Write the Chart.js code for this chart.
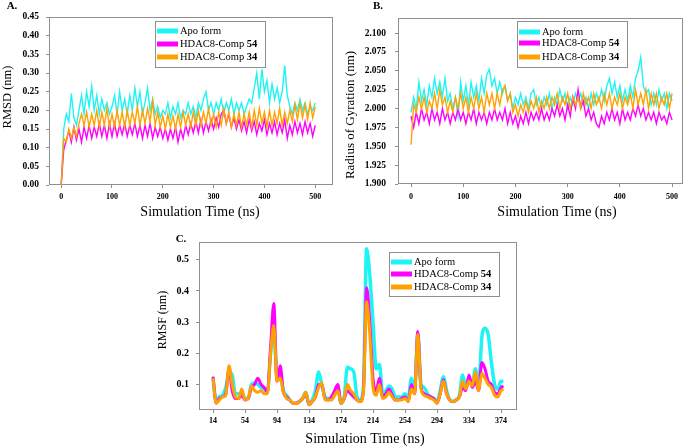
<!DOCTYPE html>
<html>
<head>
<meta charset="utf-8">
<script src="https://cdn.jsdelivr.net/npm/chart.js@4.4.0/dist/chart.umd.min.js"></script>
<style>
  html, body { margin: 0; padding: 0; background: #fff; }
  #wrap { position: relative; width: 685px; height: 447px; }
  #wrap canvas { position: absolute; left: 0; top: 0; }
</style>
</head>
<body>
<div id="wrap">
  <canvas id="rmsd" width="685" height="447"></canvas>
  <canvas id="rg" width="685" height="447"></canvas>
  <canvas id="rmsf" width="685" height="447"></canvas>
</div>
<script>
// series names and colours (Apo, Comp 54, Comp 34)
const seriesNames = ['Apo form', 'HDAC8-Comp 54', 'HDAC8-Comp 34'];
const legendParts = [['Apo form', ''], ['HDAC8-Comp ', '54'], ['HDAC8-Comp ', '34']];
const seriesColors = ['#1ef4f4', '#ff00ff', '#ffa200'];

// simulation time (ns) for panels A and B
const timeNs = [0,5,10,15,20,25,30,35,40,45,50,55,60,65,70,75,80,85,90,95,
  100,105,110,115,120,125,130,135,140,145,150,155,160,165,170,175,180,185,190,195,
  200,205,210,215,220,225,230,235,240,245,250,255,260,265,270,275,280,285,290,295,
  300,305,310,315,320,325,330,335,340,345,350,355,360,365,370,375,380,385,390,395,
  400,405,410,415,420,425,430,435,440,445,450,455,460,465,470,475,480,485,490,495,500];

// A. RMSD (nm)
const rmsdApo = [0.00,0.15,0.19,0.17,0.245,0.18,0.16,0.20,0.24,0.19,0.25,0.21,0.265,0.20,0.24,0.19,0.23,0.20,0.22,0.19,
  0.21,0.24,0.19,0.25,0.20,0.23,0.19,0.24,0.20,0.26,0.21,0.25,0.19,0.22,0.26,0.20,0.23,0.19,0.21,0.18,
  0.20,0.19,0.22,0.18,0.21,0.19,0.22,0.18,0.20,0.19,0.22,0.19,0.21,0.18,0.22,0.20,0.23,0.25,0.20,0.22,
  0.19,0.22,0.20,0.23,0.19,0.22,0.20,0.23,0.19,0.22,0.20,0.22,0.19,0.21,0.23,0.22,0.26,0.30,0.23,0.31,
  0.25,0.28,0.22,0.27,0.23,0.26,0.22,0.25,0.32,0.24,0.21,0.19,0.22,0.20,0.23,0.20,0.22,0.19,0.21,0.20,0.22];
const rmsd54 = [0.00,0.095,0.12,0.145,0.115,0.155,0.12,0.15,0.115,0.155,0.125,0.16,0.125,0.155,0.13,0.165,0.13,0.16,0.125,0.165,
  0.13,0.165,0.13,0.16,0.135,0.165,0.13,0.16,0.135,0.165,0.13,0.16,0.125,0.16,0.13,0.165,0.125,0.155,0.13,0.155,
  0.125,0.15,0.12,0.15,0.125,0.155,0.115,0.15,0.125,0.16,0.135,0.165,0.14,0.17,0.14,0.175,0.14,0.17,0.145,0.175,
  0.15,0.18,0.155,0.19,0.20,0.165,0.19,0.155,0.18,0.15,0.175,0.145,0.17,0.14,0.175,0.145,0.17,0.135,0.165,0.145,
  0.175,0.135,0.165,0.14,0.17,0.135,0.165,0.14,0.175,0.125,0.16,0.135,0.17,0.14,0.165,0.135,0.17,0.14,0.165,0.13,0.16];
const rmsd34 = [0.00,0.125,0.115,0.15,0.125,0.155,0.13,0.165,0.19,0.16,0.195,0.155,0.19,0.16,0.20,0.155,0.195,0.16,0.205,0.155,
  0.19,0.155,0.20,0.16,0.195,0.155,0.20,0.16,0.195,0.165,0.21,0.16,0.20,0.165,0.205,0.17,0.225,0.16,0.195,0.155,
  0.185,0.15,0.19,0.155,0.185,0.15,0.19,0.155,0.195,0.16,0.19,0.155,0.195,0.16,0.20,0.16,0.195,0.165,0.205,0.16,
  0.19,0.155,0.195,0.16,0.205,0.165,0.195,0.155,0.19,0.16,0.195,0.155,0.19,0.16,0.195,0.155,0.20,0.16,0.205,0.165,
  0.195,0.155,0.20,0.16,0.195,0.165,0.205,0.16,0.195,0.165,0.20,0.17,0.215,0.175,0.22,0.18,0.215,0.175,0.22,0.18,0.21];

// B. Radius of gyration (nm)
const rgApo = [1.995,2.015,2.0,2.035,2.01,2.025,2.005,2.03,2.015,2.04,2.02,2.035,2.015,2.04,2.01,2.02,2.0,2.015,1.99,2.035,
  2.01,2.03,2.005,2.035,2.015,2.03,2.01,2.04,2.02,2.045,2.052,2.03,2.04,2.02,2.035,2.02,2.03,2.01,2.02,2.0,
  2.015,2.005,2.02,2.005,2.015,2.0,2.02,2.025,2.005,2.015,2.0,2.015,2.005,2.02,2.0,2.015,2.005,2.025,2.01,2.02,
  2.0,2.015,2.005,2.02,2.01,2.02,2.005,2.015,2.0,2.02,2.005,2.02,2.01,2.025,2.01,2.03,2.04,2.02,2.035,2.015,
  2.03,2.01,2.025,2.01,2.03,2.015,2.04,2.05,2.068,2.03,2.02,2.025,2.005,2.02,2.005,2.025,2.01,2.02,2.0,2.02,2.01];
const rg54 = [1.99,1.975,1.995,1.98,2.0,1.985,1.995,1.98,2.0,1.985,1.995,1.98,2.0,1.985,1.995,1.98,1.995,1.985,2.0,1.985,
  1.995,1.98,1.995,1.985,2.0,1.98,1.995,1.985,1.995,1.98,1.995,1.985,2.0,1.985,1.995,1.985,2.0,1.98,1.995,1.98,
  1.99,1.975,1.99,1.98,1.995,1.98,1.995,1.985,1.995,1.985,2.0,1.985,1.995,1.985,2.0,1.99,2.005,1.99,2.0,1.985,
  2.005,1.99,2.015,2.0,2.025,2.0,2.01,1.99,2.0,1.985,1.995,1.98,1.975,1.99,1.98,1.995,1.985,2.0,1.985,1.995,
  1.98,2.0,1.985,1.995,1.985,2.0,1.99,2.005,1.99,2.0,1.985,1.995,1.985,1.995,1.98,1.995,1.985,1.99,1.98,1.995,1.985];
const rg34 = [1.952,2.005,1.995,2.015,2.0,2.015,1.995,2.01,2.0,2.02,2.0,2.025,2.005,2.015,1.995,2.01,1.995,2.015,2.0,2.02,
  2.0,2.015,1.995,2.015,2.0,2.02,2.0,2.015,1.995,2.02,2.005,2.02,2.0,2.02,2.005,2.025,2.03,2.01,2.02,1.995,
  2.005,1.99,2.005,1.995,2.01,1.995,2.01,2.0,2.015,1.995,2.01,2.0,2.015,2.0,2.015,2.005,2.02,2.0,2.015,2.005,
  2.02,2.0,2.015,2.005,2.015,2.0,2.02,2.005,2.015,2.0,2.02,2.005,2.015,2.0,2.02,2.005,2.02,2.0,2.015,2.005,
  2.02,2.0,2.015,2.005,2.02,2.0,2.025,2.005,2.02,2.005,2.025,2.0,2.02,2.005,2.02,2.0,2.015,2.005,2.02,2.0,2.02];

// C. RMSF (nm) per residue
const residues = [14,18,22,26,30,34,38,42,46,50,54,58,62,66,70,74,78,82,86,90,
  94,98,102,106,110,114,118,122,126,130,134,138,142,146,150,154,158,162,166,170,
  174,178,182,186,190,194,198,202,206,210,214,218,222,226,230,234,238,242,246,250,
  254,258,262,266,270,274,278,282,286,290,294,298,302,306,310,314,318,322,326,330,
  334,338,342,346,350,354,358,362,366,370,374,377];
const rmsfApo = [0.12,0.045,0.06,0.065,0.09,0.14,0.13,0.07,0.07,0.07,0.055,0.055,0.10,0.105,0.10,0.09,0.085,0.075,0.20,0.28,
  0.12,0.13,0.08,0.065,0.05,0.04,0.04,0.045,0.055,0.075,0.037,0.05,0.08,0.14,0.10,0.06,0.055,0.055,0.075,0.09,
  0.04,0.06,0.155,0.15,0.14,0.06,0.05,0.09,0.535,0.45,0.30,0.15,0.165,0.07,0.08,0.095,0.085,0.06,0.06,0.06,
  0.07,0.055,0.12,0.08,0.26,0.10,0.09,0.07,0.06,0.055,0.045,0.08,0.125,0.08,0.05,0.045,0.05,0.065,0.13,0.09,
  0.12,0.10,0.15,0.09,0.25,0.28,0.26,0.17,0.10,0.085,0.11,0.11];
const rmsf54 = [0.125,0.04,0.055,0.06,0.07,0.15,0.08,0.055,0.055,0.065,0.05,0.055,0.09,0.10,0.12,0.10,0.09,0.075,0.22,0.36,
  0.11,0.16,0.075,0.06,0.05,0.04,0.04,0.045,0.055,0.07,0.035,0.045,0.06,0.10,0.10,0.055,0.05,0.06,0.08,0.10,
  0.04,0.055,0.08,0.07,0.06,0.05,0.045,0.08,0.41,0.30,0.12,0.08,0.12,0.06,0.07,0.085,0.065,0.05,0.05,0.055,
  0.06,0.045,0.10,0.07,0.27,0.09,0.07,0.065,0.06,0.055,0.04,0.07,0.115,0.07,0.05,0.045,0.05,0.06,0.09,0.08,
  0.13,0.09,0.11,0.08,0.17,0.15,0.11,0.10,0.075,0.07,0.09,0.095];
const rmsf34 = [0.12,0.04,0.05,0.06,0.065,0.16,0.10,0.06,0.055,0.085,0.05,0.055,0.095,0.08,0.075,0.08,0.07,0.07,0.20,0.29,
  0.11,0.12,0.075,0.055,0.05,0.04,0.038,0.045,0.055,0.075,0.035,0.045,0.06,0.09,0.105,0.05,0.05,0.05,0.065,0.08,
  0.04,0.055,0.10,0.08,0.07,0.05,0.045,0.075,0.365,0.26,0.09,0.065,0.10,0.055,0.06,0.075,0.06,0.05,0.05,0.05,
  0.055,0.045,0.085,0.07,0.26,0.085,0.065,0.06,0.055,0.05,0.04,0.07,0.11,0.07,0.05,0.045,0.05,0.06,0.11,0.085,
  0.11,0.095,0.14,0.08,0.135,0.12,0.10,0.09,0.065,0.06,0.08,0.085];

// tick labels
const xTicksTime = [0, 100, 200, 300, 400, 500];
const yTicksRmsd = [0, 0.05, 0.10, 0.15, 0.20, 0.25, 0.30, 0.35, 0.40, 0.45];
const yTicksRg = [1.900, 1.925, 1.950, 1.975, 2.000, 2.025, 2.050, 2.075, 2.100];
const xTicksRes = [14, 54, 94, 134, 174, 214, 254, 294, 334, 374];
const yTicksRmsf = [0.1, 0.2, 0.3, 0.4, 0.5];

const SERIF = '"Liberation Serif", "Times New Roman", serif';

// frame, panel letter, axis titles and a legend with the bold compound number
const decorations = {
  id: 'decorations',
  beforeDatasetsDraw(chart) {
    const { ctx, chartArea: a } = chart;
    ctx.save();
    ctx.strokeStyle = '#8f8f8f';
    ctx.lineWidth = 1;
    ctx.strokeRect(Math.round(a.left) + 0.5, Math.round(a.top) + 0.5,
      Math.round(a.right - a.left) - 1, Math.round(a.bottom - a.top) - 1);
    ctx.restore();
  },
  afterDraw(chart, args, o) {
    const ctx = chart.ctx;
    ctx.save();
    ctx.fillStyle = '#000';
    ctx.textBaseline = 'middle';
    ctx.textAlign = 'center';
    ctx.font = 'bold 11px ' + SERIF;
    ctx.fillText(o.letter, o.letterX, o.letterY);
    ctx.font = '14px ' + SERIF;
    ctx.fillText('Simulation Time (ns)', o.xTitleX, o.xTitleY);
    ctx.save();
    ctx.translate(o.yTitleX, o.yTitleY);
    ctx.rotate(-Math.PI / 2);
    ctx.font = o.yTitleSize + 'px ' + SERIF;
    ctx.fillText(o.yTitle, 0, 0);
    ctx.restore();

    // legend
    const lx = o.legX, ly = o.legY;
    ctx.fillStyle = '#fff';
    ctx.fillRect(lx, ly, o.legW, o.legH);
    ctx.strokeStyle = '#8f8f8f';
    ctx.lineWidth = 1;
    ctx.strokeRect(lx + 0.5, ly + 0.5, o.legW, o.legH);
    const rows = [o.row1, o.row2, o.row3];
    chart.data.datasets.forEach((ds, i) => {
      const y = ly + rows[i];
      ctx.strokeStyle = ds.borderColor;
      ctx.lineWidth = 5;
      ctx.beginPath();
      ctx.moveTo(lx + 2, y);
      ctx.lineTo(lx + 23, y);
      ctx.stroke();
      ctx.fillStyle = '#000';
      ctx.textAlign = 'left';
      ctx.font = '10.5px ' + SERIF;
      ctx.fillText(legendParts[i][0], lx + 25, y);
      const w = ctx.measureText(legendParts[i][0]).width;
      ctx.font = 'bold 10.5px ' + SERIF;
      ctx.fillText(legendParts[i][1], lx + 25 + w, y);
    });
    ctx.restore();
  }
};

function makePanel(id, xs, series, p) {
  return new Chart(document.getElementById(id), {
    type: 'line',
    data: {
      datasets: series.map((s, i) => ({
        label: seriesNames[i],
        data: xs.map((x, j) => ({ x: x, y: s[j] })),
        borderColor: seriesColors[i],
        backgroundColor: seriesColors[i],
        borderWidth: p.lineWidths[i],
        pointRadius: 0,
        tension: p.tension,
        cubicInterpolationMode: p.tension ? 'monotone' : 'default',
        order: 3 - i
      }))
    },
    plugins: [decorations],
    options: {
      responsive: false,
      animation: false,
      events: [],
      layout: {
        padding: {
          left: p.area.left - p.yWidth,
          top: p.area.top,
          right: 685 - p.area.right,
          bottom: 447 - p.area.bottom - p.xHeight
        }
      },
      plugins: {
        legend: { display: false },
        tooltip: { enabled: false },
        decorations: p.deco
      },
      scales: {
        x: {
          type: 'linear',
          min: p.xMin, max: p.xMax,
          afterBuildTicks: (s) => { s.ticks = p.xTicks.map(v => ({ value: v })); },
          afterFit: (s) => { s.height = p.xHeight; },
          grid: { drawOnChartArea: false, tickLength: 3, color: '#8f8f8f' },
          border: { display: false },
          ticks: {
            autoSkip: false, maxRotation: 0, padding: p.xPad, color: '#000',
            font: { family: SERIF, size: 8, weight: 'bold' },
            callback: (v) => String(v)
          }
        },
        y: {
          min: p.yMin, max: p.yMax,
          afterBuildTicks: (s) => { s.ticks = p.yTicks.map(v => ({ value: v })); },
          afterFit: (s) => { s.width = p.yWidth; },
          grid: { drawOnChartArea: false, tickLength: 3, color: '#8f8f8f' },
          border: { display: false },
          ticks: {
            padding: p.yPad, color: '#000',
            font: { family: SERIF, size: p.yFont, weight: 'bold' },
            callback: (v) => Number(v).toFixed(p.yDec)
          }
        }
      }
    }
  });
}

makePanel('rmsd', timeNs, [rmsdApo, rmsd54, rmsd34], {
  area: { left: 49, top: 17, right: 333, bottom: 185 },
  yWidth: 45, xHeight: 22, xPad: 4, yPad: 7, yFont: 9.5, yDec: 2,
  xMin: -24, xMax: 535, yMin: 0, yMax: 0.45,
  xTicks: xTicksTime, yTicks: yTicksRmsd,
  lineWidths: [1.4, 1.4, 1.4], tension: 0,
  deco: {
    letter: 'A.', letterX: 12, letterY: 6,
    xTitleX: 200, xTitleY: 212,
    yTitle: 'RMSD (nm)', yTitleX: 8, yTitleY: 97, yTitleSize: 12.5,
    legX: 155, legY: 21, legW: 110, legH: 46, row1: 10, row2: 23, row3: 36
  }
});

makePanel('rg', timeNs, [rgApo, rg54, rg34], {
  area: { left: 398, top: 18, right: 683, bottom: 184 },
  yWidth: 45, xHeight: 22, xPad: 5, yPad: 9, yFont: 9.5, yDec: 3,
  xMin: -25, xMax: 521, yMin: 1.9, yMax: 2.12,
  xTicks: xTicksTime, yTicks: yTicksRg,
  lineWidths: [1.4, 1.4, 1.4], tension: 0,
  deco: {
    letter: 'B.', letterX: 378, letterY: 6,
    xTitleX: 557, xTitleY: 212,
    yTitle: 'Radius of Gyration (nm)', yTitleX: 351, yTitleY: 115, yTitleSize: 13,
    legX: 517, legY: 21, legW: 110, legH: 46, row1: 11, row2: 22, row3: 36
  }
});

makePanel('rmsf', residues, [rmsfApo, rmsf54, rmsf34], {
  area: { left: 199, top: 242, right: 517, bottom: 410 },
  yWidth: 30, xHeight: 20, xPad: 3, yPad: 7, yFont: 10, yDec: 1,
  xMin: -3.5, xMax: 394, yMin: 0.018, yMax: 0.557,
  xTicks: xTicksRes, yTicks: yTicksRmsf,
  lineWidths: [3.5, 3, 3], tension: 0.4,
  deco: {
    letter: 'C.', letterX: 181, letterY: 239,
    xTitleX: 365, xTitleY: 439,
    yTitle: 'RMSF (nm)', yTitleX: 163, yTitleY: 320, yTitleSize: 12,
    legX: 389, legY: 252, legW: 110, legH: 44, row1: 10, row2: 22, row3: 35
  }
});
</script>
</body>
</html>
